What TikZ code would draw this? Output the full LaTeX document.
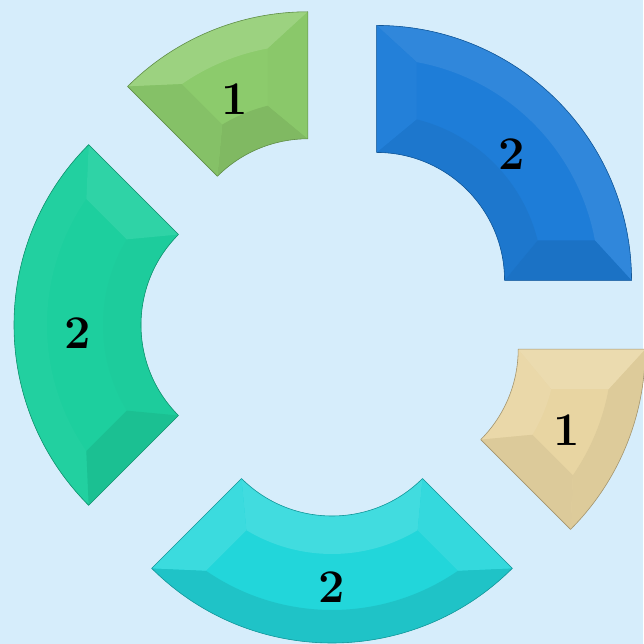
\documentclass[tikz,border=0pt]{standalone}
\usepackage{tikz}
\usetikzlibrary{calc}

\definecolor{bgBlue}{HTML}{D6EDFB}
\definecolor{segBlue}{HTML}{1E7DD8}
\definecolor{segTan}{HTML}{E8D5A2}
\definecolor{segCyan}{HTML}{22D6DA}
\definecolor{segTeal}{HTML}{1DCF9E}
\definecolor{segGreen}{HTML}{8CCB6C}

\tikzset{
  seglabel/.style={font=\fontsize{40}{44}\selectfont\bfseries, text=black, inner sep=0pt, yshift=-0.25cm},
  segedge/.style={line width=0.5pt, line join=round}
}

% colour of one bevel face, lit from the top
\newcommand{\facetfill}[2]{%
  \pgfmathsetmacro\lt{cos(#2-100)}%
  \pgfmathsetmacro\pw{100-14*max(\lt,0)}%
  \pgfmathsetmacro\pb{100+9*min(\lt,0)}%
  \edef\fcol{#1!\pw!white!\pb!black}}

\begin{document}
\begin{tikzpicture}[x=0.03cm, y=0.03cm]
  % background
  \fill[bgBlue] (0,0) rectangle (643,644);
  \useasboundingbox (0,0) rectangle (643,644);

  \def\Ro{255} \def\Ri{128} \def\off{63} \def\bev{40}
  \def\Rf{222} \def\rf{166}

  % ring segments: start angle / end angle / colour / label / name
  \foreach \a/\b/\col/\num/\nm in {0/90/segBlue/2/blue, -45/0/segTan/1/tan,
      -135/-45/segCyan/2/cyan, 135/225/segTeal/2/teal, 90/135/segGreen/1/green}{
    \pgfmathsetmacro\m{(\a+\b)/2}
    \pgfmathsetmacro\dao{asin(\bev/\Rf)}
    \pgfmathsetmacro\dai{asin(\bev/\rf)}
    \pgfmathsetmacro\ao{\a+\dao} \pgfmathsetmacro\bo{\b-\dao}
    \pgfmathsetmacro\ai{\a+\dai} \pgfmathsetmacro\bi{\b-\dai}
    \begin{scope}[shift={(332,319)}, shift={(\m:\off)}]
      % front face
      \fill[\col] (\a:\Ri) -- (\a:\Ro) arc[start angle=\a, end angle=\b, radius=\Ro]
        -- (\b:\Ri) arc[start angle=\b, end angle=\a, radius=\Ri] -- cycle;
      % outer bevel
      \facetfill{\col}{\m}
      \fill[\fcol] (\a:\Ro) arc[start angle=\a, end angle=\b, radius=\Ro]
        -- (\bo:\Rf) arc[start angle=\bo, end angle=\ao, radius=\Rf] -- cycle;
      % inner bevel
      \facetfill{\col}{\m+180}
      \fill[\fcol] (\a:\Ri) arc[start angle=\a, end angle=\b, radius=\Ri]
        -- (\bi:\rf) arc[start angle=\bi, end angle=\ai, radius=\rf] -- cycle;
      % side bevels
      \facetfill{\col}{\a-90}
      \fill[\fcol] (\a:\Ri) -- (\a:\Ro) -- (\ao:\Rf) -- (\ai:\rf) -- cycle;
      \facetfill{\col}{\b+90}
      \fill[\fcol] (\b:\Ri) -- (\b:\Ro) -- (\bo:\Rf) -- (\bi:\rf) -- cycle;
      % outline
      \draw[segedge, draw=\col!70!black] (\a:\Ri) -- (\a:\Ro)
        arc[start angle=\a, end angle=\b, radius=\Ro]
        -- (\b:\Ri) arc[start angle=\b, end angle=\a, radius=\Ri] -- cycle;
      \node[seglabel] (lbl-\nm) at (\m:191) {\num};
    \end{scope}
  }
\end{tikzpicture}
\end{document}
